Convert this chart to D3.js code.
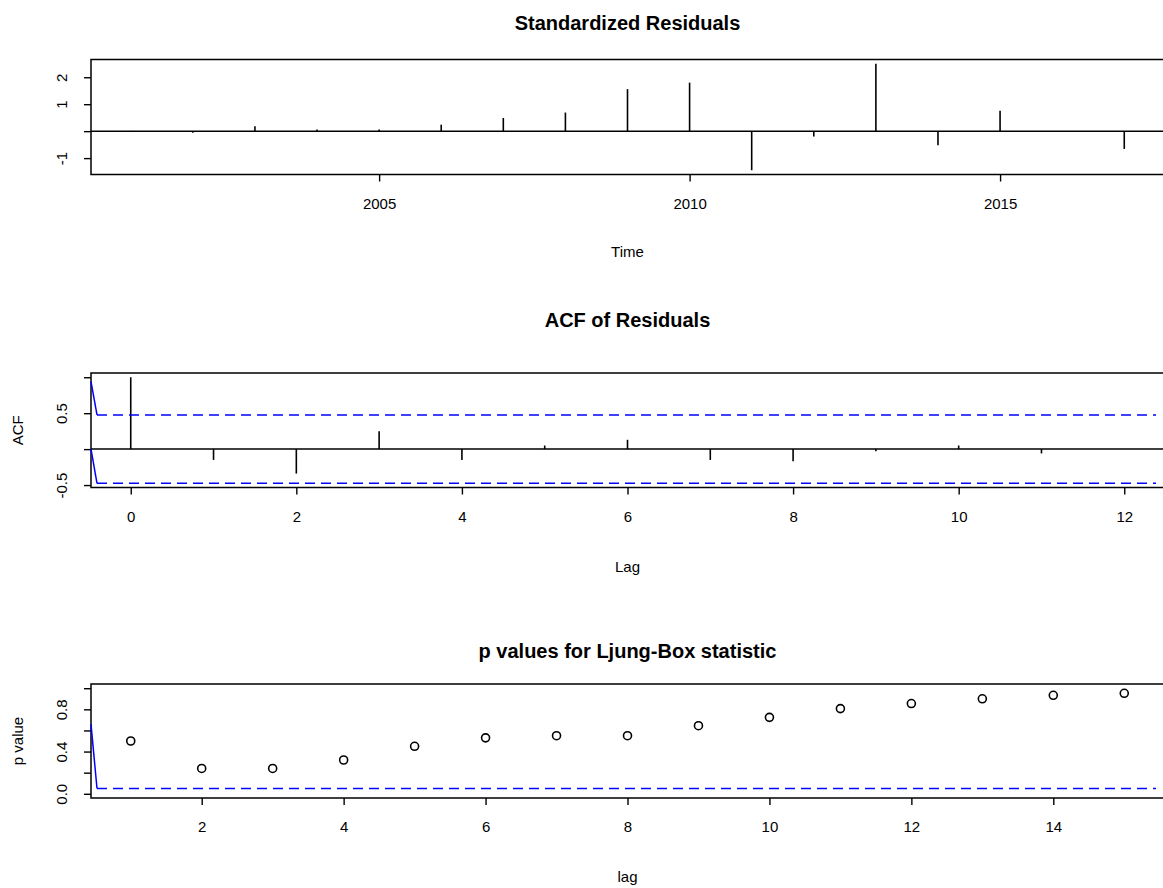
<!DOCTYPE html>
<html>
<head>
<meta charset="utf-8">
<script src="https://cdn.jsdelivr.net/npm/d3@7"></script>
<style>
    body { margin: 0; background: #fff; }
    svg { display: block; font-family: "Liberation Sans", Arial, sans-serif; }
</style>
</head>
<body>
<div id="chart-area"></div>
<script>
// standardized residuals, one per year
const years = [2001, 2002, 2003, 2004, 2005, 2006, 2007, 2008, 2009, 2010, 2011, 2012, 2013, 2014, 2015, 2016, 2017];
const stdResiduals = [0.01, -0.06, 0.18, 0.06, 0.06, 0.24, 0.49, 0.69, 1.56, 1.80, -1.45, -0.20, 2.50, -0.52, 0.76, 0.00, -0.66];
const yearTicks = [2005, 2010, 2015];
const residTicks = [-1, 0, 1, 2];
const residTickLabels = ["-1", "", "1", "2"];

// acf of residuals
const acfLags = [0, 1, 2, 3, 4, 5, 6, 7, 8, 9, 10, 11, 12];
const acfValues = [1.00, -0.15, -0.34, 0.25, -0.15, 0.05, 0.13, -0.15, -0.17, -0.03, 0.05, -0.06, 0.00];
const acfBound = 0.475;
const acfLeadStart = [0.94, 0];
const acfXTicks = [0, 2, 4, 6, 8, 10, 12];
const acfYTicks = [-0.5, 0, 0.5, 1];
const acfYTickLabels = ["-0.5", "", "0.5", ""];

// ljung-box p values
const lbLags = [1, 2, 3, 4, 5, 6, 7, 8, 9, 10, 11, 12, 13, 14, 15];
const lbPValues = [0.50, 0.24, 0.24, 0.32, 0.45, 0.53, 0.55, 0.55, 0.645, 0.724, 0.807, 0.855, 0.90, 0.933, 0.952];
const lbBound = 0.05;
const lbLeadStart = 0.66;
const lbXTicks = [2, 4, 6, 8, 10, 12, 14];
const lbYTicks = [0, 0.2, 0.4, 0.6, 0.8, 1];
const lbYTickLabels = ["0.0", "", "0.4", "", "0.8", ""];

const chartSize = { width: 1163, height: 888 };
const left = 91, right = 1164;
const leadWidth = 6;

// R style 4% padding of the axis range
const pad = ([a, b]) => {
    const r = b - a;
    return [a - 0.04 * r, b + 0.04 * r];
};

const svg = d3.select("#chart-area")
    .append("svg")
    .attr("width", chartSize.width)
    .attr("height", chartSize.height);

const drawFrame = (p) => {
    const g = svg.append("g");

    g.append("text")
        .text(p.title)
        .attr("x", (left + right) / 2)
        .attr("y", p.titleY)
        .attr("dy", "0.35em")
        .attr("text-anchor", "middle")
        .attr("font-weight", "bold")
        .attr("font-size", 20);

    const xAxis = d3.axisBottom(p.x).tickValues(p.xTicks).tickSize(7).tickSizeOuter(0)
        .tickFormat(d3.format("d"));
    g.append("g")
        .attr("transform", `translate(0, ${p.bottom})`)
        .call(xAxis)
        .call(a => a.select(".domain").remove())
        .call(a => a.selectAll("line").attr("stroke-width", 1.4))
        .call(a => a.selectAll("text")
            .attr("y", 29)
            .attr("dy", "0.35em")
            .attr("fill", "#000")
            .attr("font-size", 15)
            .attr("font-family", null));

    const yAxis = d3.axisLeft(p.y).tickValues(p.yTicks).tickSize(7).tickSizeOuter(0)
        .tickFormat((d, i) => p.yTickLabels[i]);
    g.append("g")
        .attr("transform", `translate(${left}, 0)`)
        .call(yAxis)
        .call(a => a.select(".domain").remove())
        .call(a => a.selectAll("line").attr("stroke-width", 1.4))
        .call(a => a.selectAll("text")
            .attr("x", 0)
            .attr("transform", "translate(-29, 0) rotate(-90)")
            .attr("dy", "0.35em")
            .attr("text-anchor", "middle")
            .attr("fill", "#000")
            .attr("font-size", 15)
            .attr("font-family", null));

    g.append("text")
        .text(p.xLabel)
        .attr("x", (left + right) / 2)
        .attr("y", p.xLabelY)
        .attr("dy", "0.35em")
        .attr("text-anchor", "middle")
        .attr("font-size", 15);

    if (p.yLabel) {
        g.append("text")
            .text(p.yLabel)
            .attr("transform", `translate(18, ${(p.top + p.bottom) / 2}) rotate(-90)`)
            .attr("dy", "0.35em")
            .attr("text-anchor", "middle")
            .attr("font-size", 15);
    }

    g.append("rect")
        .attr("x", left)
        .attr("y", p.top)
        .attr("width", right - left)
        .attr("height", p.bottom - p.top)
        .attr("fill", "none")
        .attr("stroke", "#000")
        .attr("stroke-width", 1.5);

    return g;
};

const drawBound = (g, x, y, xMin, xMax, startVal, val) => {
    const xLead = x.invert(x(xMin) + leadWidth);
    g.append("line")
        .attr("x1", x(xMin)).attr("y1", y(startVal))
        .attr("x2", x(xLead)).attr("y2", y(val))
        .attr("stroke", "blue").attr("stroke-width", 1.5);
    g.append("line")
        .attr("x1", x(xLead)).attr("y1", y(val))
        .attr("x2", x(xMax) - 8).attr("y2", y(val))
        .attr("stroke", "blue").attr("stroke-width", 1.6)
        .attr("stroke-dasharray", "10,6");
};

// panel 1: standardized residuals
const p1 = { top: 59.5, bottom: 174.5 };
const x1 = d3.scaleLinear().domain(pad(d3.extent(years))).range([left, right]);
const y1 = d3.scaleLinear().domain(pad(d3.extent(stdResiduals))).range([p1.bottom, p1.top]);
const g1 = drawFrame({
    ...p1, x: x1, y: y1, title: "Standardized Residuals", titleY: 23,
    xTicks: yearTicks, yTicks: residTicks, yTickLabels: residTickLabels,
    xLabel: "Time", xLabelY: 252
});
g1.append("line")
    .attr("x1", left).attr("x2", right)
    .attr("y1", y1(0)).attr("y2", y1(0))
    .attr("stroke", "#000").attr("stroke-width", 1.5);
g1.selectAll(".bar")
    .data(years)
    .enter()
    .append("line")
    .attr("x1", d => x1(d)).attr("x2", d => x1(d))
    .attr("y1", y1(0)).attr("y2", (d, i) => y1(stdResiduals[i]))
    .attr("stroke", "#000").attr("stroke-width", 1.6);

// panel 2: acf of residuals
const p2 = { top: 373, bottom: 487.5 };
const x2 = d3.scaleLinear().domain(pad([0, d3.max(acfLags)])).range([left, right]);
const y2 = d3.scaleLinear().domain(pad([-acfBound, d3.max(acfValues)])).range([p2.bottom, p2.top]);
const g2 = drawFrame({
    ...p2, x: x2, y: y2, title: "ACF of Residuals", titleY: 320,
    xTicks: acfXTicks, yTicks: acfYTicks, yTickLabels: acfYTickLabels,
    xLabel: "Lag", xLabelY: 567, yLabel: "ACF"
});
g2.append("line")
    .attr("x1", left).attr("x2", right)
    .attr("y1", y2(0)).attr("y2", y2(0))
    .attr("stroke", "#000").attr("stroke-width", 1.5);
g2.selectAll(".bar")
    .data(acfLags)
    .enter()
    .append("line")
    .attr("x1", d => x2(d)).attr("x2", d => x2(d))
    .attr("y1", y2(0)).attr("y2", (d, i) => y2(acfValues[i]))
    .attr("stroke", "#000").attr("stroke-width", 1.6);
drawBound(g2, x2, y2, x2.domain()[0], x2.domain()[1], acfLeadStart[0], acfBound);
drawBound(g2, x2, y2, x2.domain()[0], x2.domain()[1], acfLeadStart[1], -acfBound);

// panel 3: ljung-box p values
const p3 = { top: 684, bottom: 798 };
const x3 = d3.scaleLinear().domain(pad(d3.extent(lbLags))).range([left, right]);
const y3 = d3.scaleLinear().domain(pad([0, 1])).range([p3.bottom, p3.top]);
const g3 = drawFrame({
    ...p3, x: x3, y: y3, title: "p values for Ljung-Box statistic", titleY: 651,
    xTicks: lbXTicks, yTicks: lbYTicks, yTickLabels: lbYTickLabels,
    xLabel: "lag", xLabelY: 877, yLabel: "p value"
});
drawBound(g3, x3, y3, x3.domain()[0], x3.domain()[1], lbLeadStart, lbBound);
g3.selectAll(".pt")
    .data(lbLags)
    .enter()
    .append("circle")
    .attr("cx", d => x3(d))
    .attr("cy", (d, i) => y3(lbPValues[i]))
    .attr("r", 4)
    .attr("fill", "none")
    .attr("stroke", "#000")
    .attr("stroke-width", 1.6);
</script>
</body>
</html>
